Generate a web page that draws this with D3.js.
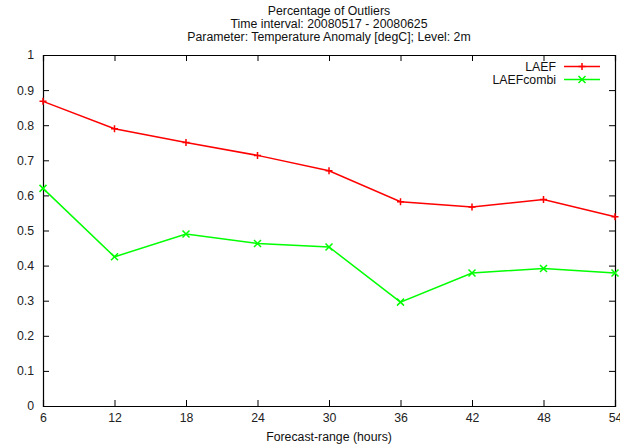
<!DOCTYPE html>
<html>
<head>
<meta charset="utf-8">
<script src="https://cdn.jsdelivr.net/npm/d3@7"></script>
<style>
html,body{margin:0;padding:0;background:#fff;}
svg{display:block;font-family:"Liberation Sans",Arial,Helvetica,sans-serif;}
</style>
</head>
<body>
<svg id="chart" width="620" height="447"></svg>
<script>
const hours = [6, 12, 18, 24, 30, 36, 42, 48, 54];
const laef = [0.868, 0.790, 0.751, 0.714, 0.670, 0.582, 0.567, 0.588, 0.539];
const laefCombi = [0.620, 0.425, 0.490, 0.463, 0.453, 0.296, 0.379, 0.392, 0.379];
const yTicks = [0, 0.1, 0.2, 0.3, 0.4, 0.5, 0.6, 0.7, 0.8, 0.9, 1];
const titleLines = ["Percentage of Outliers", "Time interval: 20080517 - 20080625", "Parameter: Temperature Anomaly [degC]; Level: 2m"];
const seriesNames = ["LAEF", "LAEFcombi"];
const xLabel = "Forecast-range (hours)";

const W = 620, H = 447;
const FS = "12.3px";
const m = {left: 43, right: 5, top: 55, bottom: 41};
const svg = d3.select("#chart");
const x = d3.scaleLinear().domain([6, 54]).range([m.left, W - m.right]);
const y = d3.scaleLinear().domain([0, 1]).range([H - m.bottom, m.top]);

const tickLen = 6;
// Axes (ticks inward, mirrored)
const gB = svg.append("g").attr("transform", `translate(0,${y(0)})`)
  .call(d3.axisBottom(x).tickValues(hours).tickSize(-tickLen).tickPadding(7).tickFormat(d3.format("d")));
const gT = svg.append("g").attr("transform", `translate(0,${y(1)})`)
  .call(d3.axisTop(x).tickValues(hours).tickSize(-tickLen).tickFormat(""));
const gL = svg.append("g").attr("transform", `translate(${x(6)},0)`)
  .call(d3.axisLeft(y).tickValues(yTicks).tickSize(-tickLen).tickPadding(9).tickFormat(d => d === 0 ? "0" : d === 1 ? "1" : d3.format(".1f")(d)));
const gR = svg.append("g").attr("transform", `translate(${x(54)},0)`)
  .call(d3.axisRight(y).tickValues(yTicks).tickSize(-tickLen).tickFormat(""));
[gB, gT, gL, gR].forEach(g => {
  g.select(".domain").attr("stroke", "#000").attr("stroke-width", 1.2);
  g.selectAll(".tick line").attr("stroke", "#000").attr("stroke-width", 1);
  g.selectAll(".tick text").attr("fill", "#222").style("font-size", FS).style("font-family", "'Liberation Sans',Arial,sans-serif");
});
gB.selectAll(".tick text").attr("dy", "0.71em");

// Title
const cx = (x(6) + x(54)) / 2;
svg.append("g").selectAll("text").data(titleLines).join("text")
  .attr("x", cx).attr("y", (d, i) => 14.5 + i * 13)
  .attr("text-anchor", "middle").style("font-size", FS).attr("fill", "#111")
  .text(d => d);

svg.append("text").attr("x", cx).attr("y", 441).attr("text-anchor", "middle")
  .style("font-size", FS).attr("fill", "#111").text(xLabel);

const series = [
  {name: seriesNames[0], values: laef, color: "#ff0000", marker: "plus"},
  {name: seriesNames[1], values: laefCombi, color: "#00ff00", marker: "cross"}
];
const line = d3.line().x((d, i) => x(hours[i])).y(d => y(d));
const ms = 3.5;
function drawMarker(g, px, py, type, color) {
  const p = type === "plus"
    ? `M${px - ms},${py}H${px + ms}M${px},${py - ms}V${py + ms}`
    : `M${px - ms},${py - ms}L${px + ms},${py + ms}M${px - ms},${py + ms}L${px + ms},${py - ms}`;
  g.append("path").attr("d", p).attr("stroke", color).attr("stroke-width", 1.5).attr("fill", "none");
}
series.forEach((s, k) => {
  const g = svg.append("g");
  g.append("path").datum(s.values).attr("d", line).attr("fill", "none")
    .attr("stroke", s.color).attr("stroke-width", 1.5);
  s.values.forEach((v, i) => drawMarker(g, x(hours[i]), y(v), s.marker, s.color));
  // legend
  const ly = 66.5 + k * 13;
  svg.append("text").attr("x", 556).attr("y", ly).attr("dy", "0.35em").attr("text-anchor", "end")
    .style("font-size", FS).attr("fill", "#111").text(s.name);
  g.append("line").attr("x1", 564).attr("x2", 600).attr("y1", ly).attr("y2", ly)
    .attr("stroke", s.color).attr("stroke-width", 1.5);
  drawMarker(g, 582, ly, s.marker, s.color);
});
</script>
</body>
</html>
